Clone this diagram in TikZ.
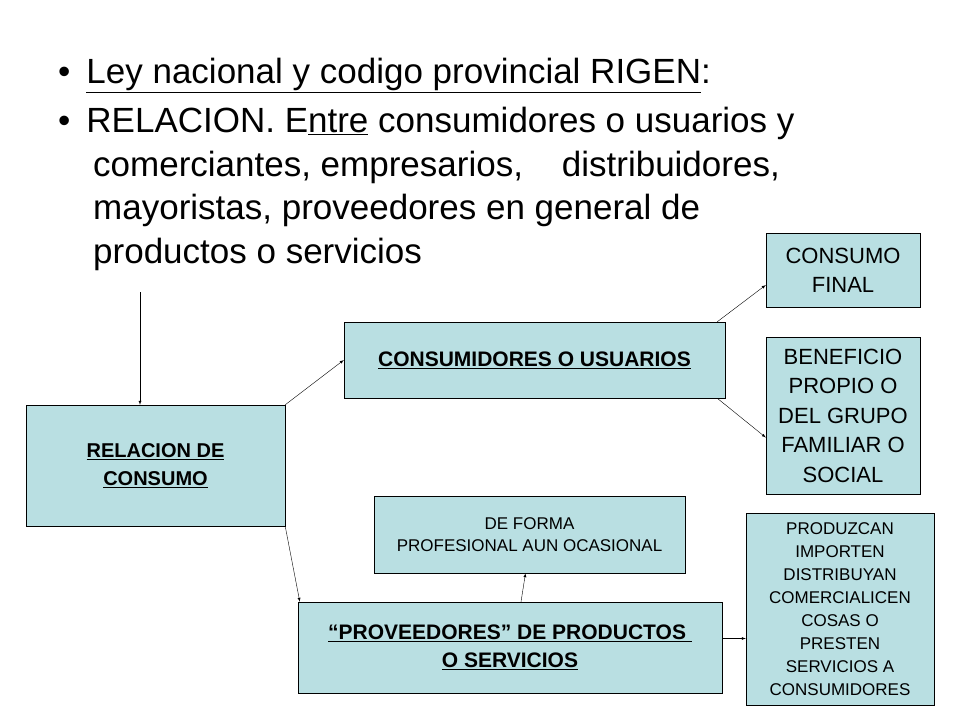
\documentclass[tikz,border=0pt]{standalone}
\usepackage{fontspec}
\setmainfont{Liberation Sans}
\newcommand\myul[1]{\underline{#1}}
\begin{document}
\begin{tikzpicture}[x=1pt,y=-1pt,
 bx/.style={draw=black,fill=boxc,align=center,inner sep=0},
 ar/.style={-latex,thin}]
\definecolor{boxc}{HTML}{B9DFE2}
\useasboundingbox (0,0) rectangle (960,720);
\fill[white] (0,0) rectangle (960,720);
\node[anchor=west,font=\fontsize{35}{40}\selectfont,inner sep=0] (b1) at (58,75) {\textbullet\hspace{16pt}\myul{Ley nacional y codigo provincial RIGEN}:};
\node[anchor=north west,align=left,font=\fontsize{35}{43.5}\selectfont,inner sep=0] (b2) at (58,107) {\textbullet\hspace{16pt}RELACION. E\myul{ntre} consumidores o usuarios y\\
\hspace{35pt}comerciantes, empresarios, \ \ \ distribuidores,\\
\hspace{35pt}mayoristas, proveedores en general de\\
\hspace{35pt}productos o servicios};
\node[bx,minimum width=259,minimum height=121,font=\bfseries\fontsize{20}{28}\selectfont] (rel) at (155.5,465.5) {\myul{RELACION DE}\\\myul{CONSUMO}};
\node[bx,minimum width=381,minimum height=76,font=\bfseries\fontsize{21}{24}\selectfont] (cons) at (534.5,360) {\myul{CONSUMIDORES O USUARIOS}};
\node[bx,minimum width=154,minimum height=74,font=\fontsize{22}{29}\selectfont] (cf) at (843,270) {CONSUMO\\FINAL};
\node[bx,minimum width=154,minimum height=157,font=\fontsize{22}{29.5}\selectfont] (ben) at (843,415.5) {BENEFICIO\\PROPIO O\\DEL GRUPO\\FAMILIAR O\\SOCIAL};
\node[bx,minimum width=311,minimum height=77,font=\fontsize{17}{22}\selectfont] (forma) at (529.5,534.5) {DE FORMA\\PROFESIONAL AUN OCASIONAL};
\node[bx,minimum width=424,minimum height=91,font=\bfseries\fontsize{21}{28}\selectfont] (prov) at (510,647.5) {\myul{``PROVEEDORES'' DE PRODUCTOS }\\\myul{O SERVICIOS}};
\node[bx,minimum width=188,minimum height=192,font=\fontsize{17}{23}\selectfont] (prod) at (840,609) {PRODUZCAN\\IMPORTEN\\DISTRIBUYAN\\COMERCIALICEN\\COSAS O\\PRESTEN\\SERVICIOS A\\CONSUMIDORES};
\coordinate (top) at (140,292);
\draw[ar] (top) -- (rel.north west -| top);
\draw[ar] (rel.north east) -- (cons.west);
\draw[ar] (rel.south east) -- ([xshift=2pt]prov.north west);
\draw[ar] ([xshift=-8pt]cons.north east) -- ([yshift=-15pt]cf.west);
\draw[ar] ([xshift=-8pt]cons.south east) -- ([yshift=-22pt]ben.west);
\draw[ar] ([xshift=11pt]prov.north) -- ([xshift=-4pt]forma.south);
\draw[ar] ([yshift=9pt]prov.east) -- ([yshift=9pt]prov.east -| prod.west);
\end{tikzpicture}
\end{document}
